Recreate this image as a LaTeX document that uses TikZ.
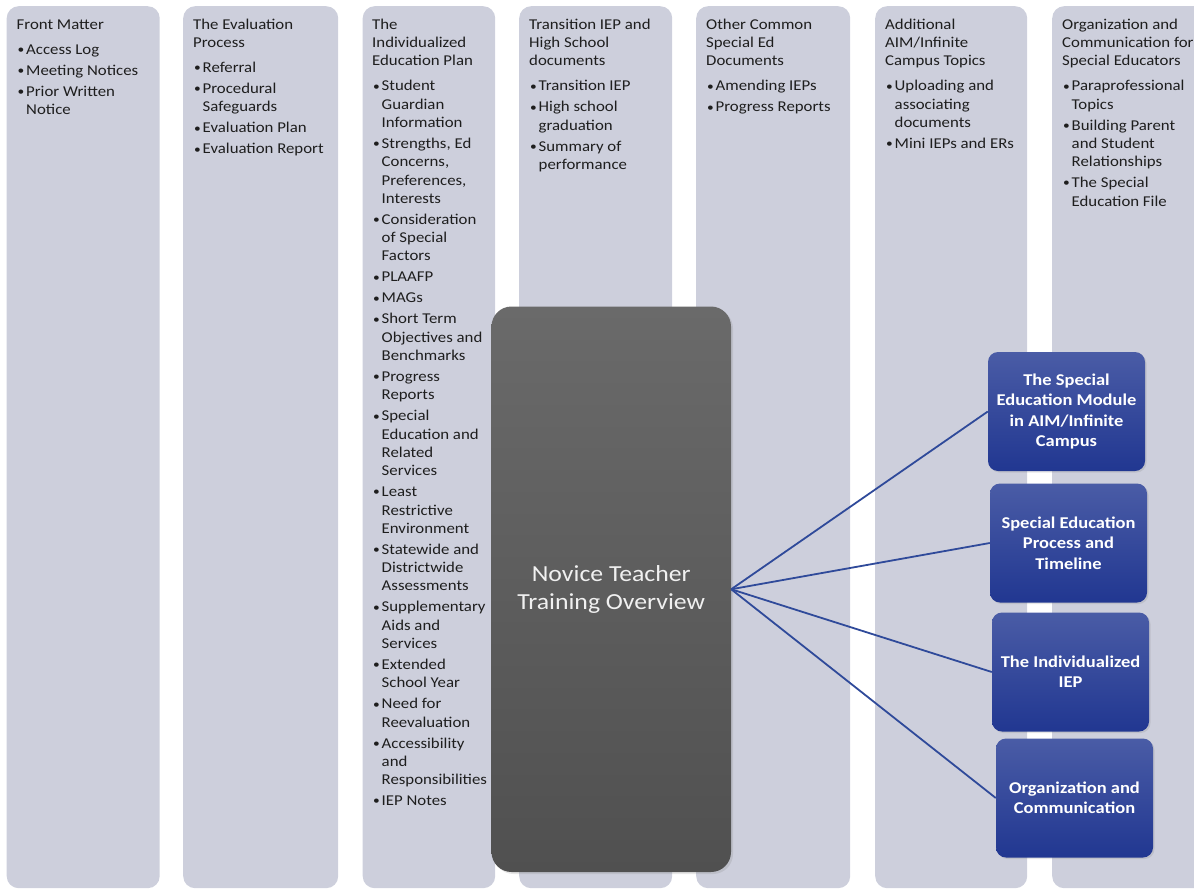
\documentclass[tikz,border=0pt]{standalone}
\usepackage{fontspec}
\setmainfont{Carlito}[FakeStretch=1.12]
\usetikzlibrary{positioning}
\usetikzlibrary{shadows}
\definecolor{colfill}{HTML}{CDCFDC}
\definecolor{txtdark}{HTML}{1E1E1E}
\definecolor{hubtop}{HTML}{6A6A6A}
\definecolor{hubbot}{HTML}{505050}
\definecolor{modtop}{HTML}{4A5CA6}
\definecolor{modbot}{HTML}{213791}
\definecolor{linkblue}{HTML}{2F4A9A}
% bullet and continuation indent for the column lists
\newcommand{\bi}{\makebox[9.5pt][l]{\hspace*{1pt}\raisebox{0.8pt}{\fontsize{12}{12}\selectfont\textbullet}}}
\newcommand{\ct}{\hspace*{9.5pt}}

\begin{document}
\begin{tikzpicture}[x=1pt, y=-1pt, font=\fontsize{15}{18.3}\selectfont]
    \tikzstyle{col}=[rectangle, fill=colfill, rounded corners=12pt, anchor=north west, minimum height=882pt, inner sep=0pt]
    \tikzstyle{coltext}=[anchor=north west, inner sep=0pt, text=txtdark]
    \tikzstyle{hub}=[rectangle, rounded corners=20pt, top color=hubtop, bottom color=hubbot, text=white!94!black, align=center, inner sep=0pt, minimum width=239.5pt, minimum height=565.5pt, font=\fontsize{23}{28}\selectfont, drop shadow={opacity=0.2, shadow xshift=2pt, shadow yshift=-2pt}]
    \tikzstyle{mod}=[rectangle, rounded corners=10pt, top color=modtop, bottom color=modbot, text=white, align=center, inner sep=0pt, minimum width=157pt, minimum height=119pt, font=\bfseries\fontsize{16.5}{20.3}\selectfont, drop shadow={opacity=0.2, shadow xshift=1.5pt, shadow yshift=-1.5pt}]
    \tikzstyle{link}=[draw=linkblue, line width=1.8pt]

    \useasboundingbox (0,0) rectangle (1194,889);

    % topic columns
    \foreach \i/\x/\w in {1/6.5/153, 2/183/155, 3/362.5/132.5, 4/519/153, 5/696/154, 6/875/152, 7/1052/175}
        \node[col, minimum width=\w pt] (c\i) at (\x,6) {};

    \node[coltext, below right=10.2pt and 10pt of c1.north west] (t1) {\begin{tabular}[t]{@{}l@{}}
        Front Matter\\[6.7pt]
        \bi Access Log\\[2.7pt]
        \bi Meeting Notices\\[2.7pt]
        \bi Prior Written\\
        \ct Notice
    \end{tabular}};
    \node[coltext, below right=10.2pt and 10pt of c2.north west] (t2) {\begin{tabular}[t]{@{}l@{}}
        The Evaluation\\
        Process\\[6.7pt]
        \bi Referral\\[2.7pt]
        \bi Procedural\\
        \ct Safeguards\\[2.7pt]
        \bi Evaluation Plan\\[2.7pt]
        \bi Evaluation Report
    \end{tabular}};
    \node[coltext, below right=10.2pt and 9.5pt of c3.north west] (t3) {\begin{tabular}[t]{@{}l@{}}
        The\\
        Individualized\\
        Education Plan\\[6.7pt]
        \bi Student\\ \ct Guardian\\ \ct Information\\[2.7pt]
        \bi Strengths, Ed\\ \ct Concerns,\\ \ct Preferences,\\ \ct Interests\\[2.7pt]
        \bi Consideration\\ \ct of Special\\ \ct Factors\\[2.7pt]
        \bi PLAAFP\\[2.7pt]
        \bi MAGs\\[2.7pt]
        \bi Short Term\\ \ct Objectives and\\ \ct Benchmarks\\[2.7pt]
        \bi Progress\\ \ct Reports\\[2.7pt]
        \bi Special\\ \ct Education and\\ \ct Related\\ \ct Services\\[2.7pt]
        \bi Least\\ \ct Restrictive\\ \ct Environment\\[2.7pt]
        \bi Statewide and\\ \ct Districtwide\\ \ct Assessments\\[2.7pt]
        \bi Supplementary\\ \ct Aids and\\ \ct Services\\[2.7pt]
        \bi Extended\\ \ct School Year\\[2.7pt]
        \bi Need for\\ \ct Reevaluation\\[2.7pt]
        \bi Accessibility\\ \ct and\\ \ct Responsibilities\\[2.7pt]
        \bi IEP Notes
    \end{tabular}};
    \node[coltext, below right=10.2pt and 10pt of c4.north west] (t4) {\begin{tabular}[t]{@{}l@{}}
        Transition IEP and\\
        High School\\
        documents\\[6.7pt]
        \bi Transition IEP\\[2.7pt]
        \bi High school\\ \ct graduation\\[2.7pt]
        \bi Summary of\\ \ct performance
    \end{tabular}};
    \node[coltext, below right=10.2pt and 10pt of c5.north west] (t5) {\begin{tabular}[t]{@{}l@{}}
        Other Common\\
        Special Ed\\
        Documents\\[6.7pt]
        \bi Amending IEPs\\[2.7pt]
        \bi Progress Reports
    \end{tabular}};
    \node[coltext, below right=10.2pt and 10pt of c6.north west] (t6) {\begin{tabular}[t]{@{}l@{}}
        Additional\\
        AIM/Infinite\\
        Campus Topics\\[6.7pt]
        \bi Uploading and\\ \ct associating\\ \ct documents\\[2.7pt]
        \bi Mini IEPs and ERs
    \end{tabular}};
    \node[coltext, below right=10.2pt and 10pt of c7.north west] (t7) {\begin{tabular}[t]{@{}l@{}}
        Organization and\\
        Communication for\\
        Special Educators\\[6.7pt]
        \bi Paraprofessional\\ \ct Topics\\[2.7pt]
        \bi Building Parent\\ \ct and Student\\ \ct Relationships\\[2.7pt]
        \bi The Special\\ \ct Education File
    \end{tabular}};

    % overview and modules
    \node[hub] (ntt) at (611.25,589.25) {Novice Teacher\\Training Overview};

    \node[mod] (m1) at (1066.5,411.5) {The Special\\Education Module\\in AIM/Infinite\\Campus};
    \node[mod] (m2) at (1068.5,543) {Special Education\\Process and\\Timeline};
    \node[mod] (m3) at (1070.5,672) {The Individualized\\IEP};
    \node[mod] (m4) at (1074.5,798) {Organization and\\Communication};

    \path[link] (ntt.east) edge (m1.west);
    \path[link] (ntt.east) edge (m2.west);
    \path[link] (ntt.east) edge (m3.west);
    \path[link] (ntt.east) edge (m4.west);
\end{tikzpicture}
\end{document}
